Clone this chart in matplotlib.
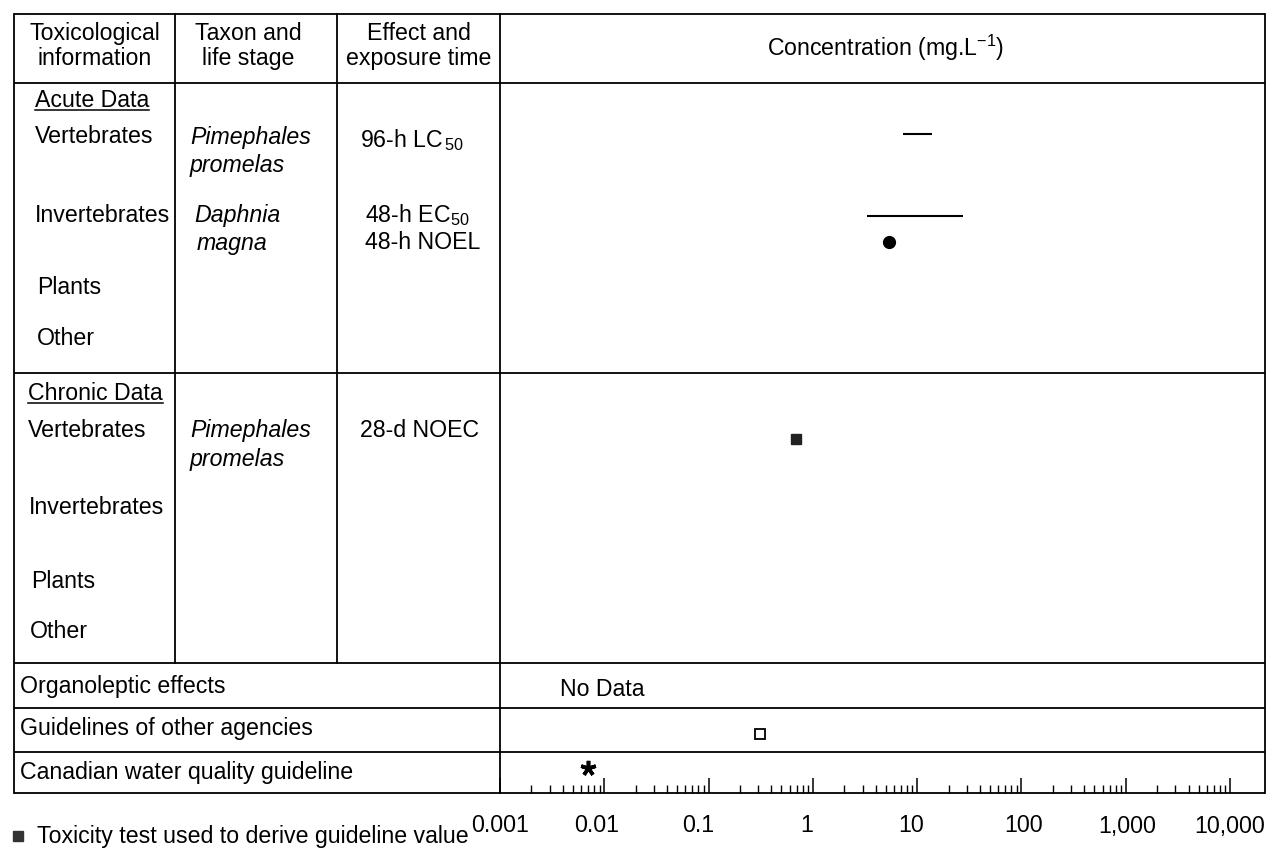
import matplotlib
matplotlib.use("Agg")
import matplotlib.pyplot as plt
import matplotlib.transforms as mtransforms
import numpy as np

plt.rcParams['font.family'] = ['Liberation Sans', 'DejaVu Sans']
plt.rcParams['mathtext.fontset'] = 'custom'
plt.rcParams['mathtext.rm'] = 'Liberation Sans'
plt.rcParams['mathtext.it'] = 'Liberation Sans:italic'

# ---- data ----
tick_values = [0.001, 0.01, 0.1, 1, 10, 100, 1000, 10000]
tick_labels = ['0.001', '0.01', '0.1', '1', '10', '100', '1,000', '10,000']

acute_vert_lc50 = [7.3, 14.0]        # 96-h LC50 range, Pimephales promelas
acute_invert_ec50 = [3.3, 27.5]      # 48-h EC50 range, Daphnia magna
acute_invert_noel = [5.4]            # 48-h NOEL, Daphnia magna
chronic_vert_noec = [0.69]           # 28-d NOEC, Pimephales promelas (used for guideline)
other_agencies = [0.31]              # guidelines of other agencies
canadian_guideline = [0.007]         # Canadian water quality guideline

W, H = 1279, 849
fig = plt.figure(figsize=(W / 100, H / 100), dpi=100)

ax0 = fig.add_axes([0, 0, 1, 1])
ax0.set_xlim(0, W)
ax0.set_ylim(H, 0)
ax0.axis('off')

# layout (pixels)
L, C2, C3, C4, R = 14, 175, 337, 500, 1265
T, HDR, MID, CHR, ORG, GUI, BOT = 14, 83, 373, 663, 708, 752, 793
lw = 1.3
k = 'black'

for y in (T, HDR, MID, CHR, ORG, GUI, BOT):
    ax0.plot([L, R], [y, y], color=k, lw=lw, solid_capstyle='butt')
ax0.plot([L, L], [T, BOT], color=k, lw=lw)
ax0.plot([R, R], [T, BOT], color=k, lw=lw)
ax0.plot([C4, C4], [T, BOT], color=k, lw=lw)
for x in (C2, C3):
    ax0.plot([x, x], [T, CHR], color=k, lw=lw)

fs = 16.7
ax0.text((L + C2) / 2, 46, 'Toxicological\ninformation', ha='center', va='center',
         fontsize=fs, linespacing=1.15)
ax0.text((C2 + C3) / 2 - 8, 46, 'Taxon and\nlife stage', ha='center', va='center',
         fontsize=fs, linespacing=1.15)
ax0.text((C3 + C4) / 2, 46, 'Effect and\nexposure time', ha='center', va='center',
         fontsize=fs, linespacing=1.15)
ax0.text(886, 48, 'Concentration (mg.L$^{-1}$)', ha='center', va='center', fontsize=fs)

def label(x, y, s, **kw):
    return ax0.text(x, y, s, ha='left', va='center', fontsize=fs, **kw)

t1 = label(35, 100, 'Acute Data')
label(35, 136, 'Vertebrates')
label(35, 215, 'Invertebrates')
label(37, 288, 'Plants')
label(37, 338, 'Other')
t2 = label(28, 393, 'Chronic Data')
label(28, 430, 'Vertebrates')
label(29, 507, 'Invertebrates')
label(31, 581, 'Plants')
label(30, 632, 'Other')

label(190, 137, 'Pimephales', style='italic')
label(190, 165, 'promelas', style='italic')
label(194, 215, 'Daphnia', style='italic')
label(197, 243, 'magna', style='italic')
label(190, 430, 'Pimephales', style='italic')
label(190, 459, 'promelas', style='italic')

label(360, 140, '96-h LC$_{\\,50}$')
label(365, 215, '48-h EC$_{50}$')
label(365, 242, '48-h NOEL')
label(360, 430, '28-d NOEC')

label(20, 687, 'Organoleptic effects')
label(20, 728, 'Guidelines of other agencies')
label(20, 772, 'Canadian water quality guideline')
ax0.text(602, 690, 'No Data', ha='center', va='center', fontsize=fs)

# legend
ax0.plot([18], [836], marker='s', ms=7, color='#333333', ls='none')
label(37, 836, 'Toxicity test used to derive guideline value')

fig.canvas.draw()
r = fig.canvas.get_renderer()
for t in (t1, t2):
    bb = t.get_window_extent(r)
    yb = H - bb.y0 - 2
    ax0.plot([bb.x0, bb.x1], [yb, yb], color=k, lw=1.1)

# concentration panel (log axis)
dec_px = (1230 - C4) / 7.0
xmax = 10 ** (4 + (R - 1230) / dec_px)
ax = fig.add_axes([C4 / W, (H - BOT) / H, (R - C4) / W, (BOT - T) / H])
ax.set_xscale('log')
ax.set_xlim(1e-3, xmax)
ax.set_ylim(BOT, T)
ax.patch.set_alpha(0)
for s in ax.spines.values():
    s.set_visible(False)
ax.set_yticks([])
ax.set_xticks(tick_values)
ax.set_xticklabels([])
minor = [m * 10.0 ** e for e in range(-3, 4) for m in range(2, 10)]
ax.set_xticks(minor, minor=True)
ax.xaxis.set_minor_formatter(matplotlib.ticker.NullFormatter())
ax.tick_params(axis='x', which='major', direction='in', length=11, width=1.1)
ax.tick_params(axis='x', which='minor', direction='in', length=5.5, width=1.0)

# tick labels below the table, slightly shifted as in the printed original
label_shift_px = [0, -8, -10, -6, -6, 2, 1, 0]
for v, s, dx in zip(tick_values, tick_labels, label_shift_px):
    tr = ax.get_xaxis_transform() + mtransforms.ScaledTranslation(dx / 100, -33 / 100, fig.dpi_scale_trans)
    ax.text(v, 0, s, transform=tr, ha='center', va='center', fontsize=fs)

# data marks
ax.hlines(134, acute_vert_lc50[0], acute_vert_lc50[1], color=k, lw=1.5)
ax.hlines(216, acute_invert_ec50[0], acute_invert_ec50[1], color=k, lw=1.5)
ax.plot(acute_invert_noel, [242], 'o', color=k, ms=8.5)
ax.plot(chronic_vert_noec, [439], 's', color='#222222', ms=7.5)
ax.plot(other_agencies, [734], 's', mfc='white', mec=k, mew=1.3, ms=7)
ax.plot(canadian_guideline, [768], marker=(5, 2, 0), color=k, ms=11, mew=2.6, ls='none')

fig.savefig('out.png', dpi=100)
